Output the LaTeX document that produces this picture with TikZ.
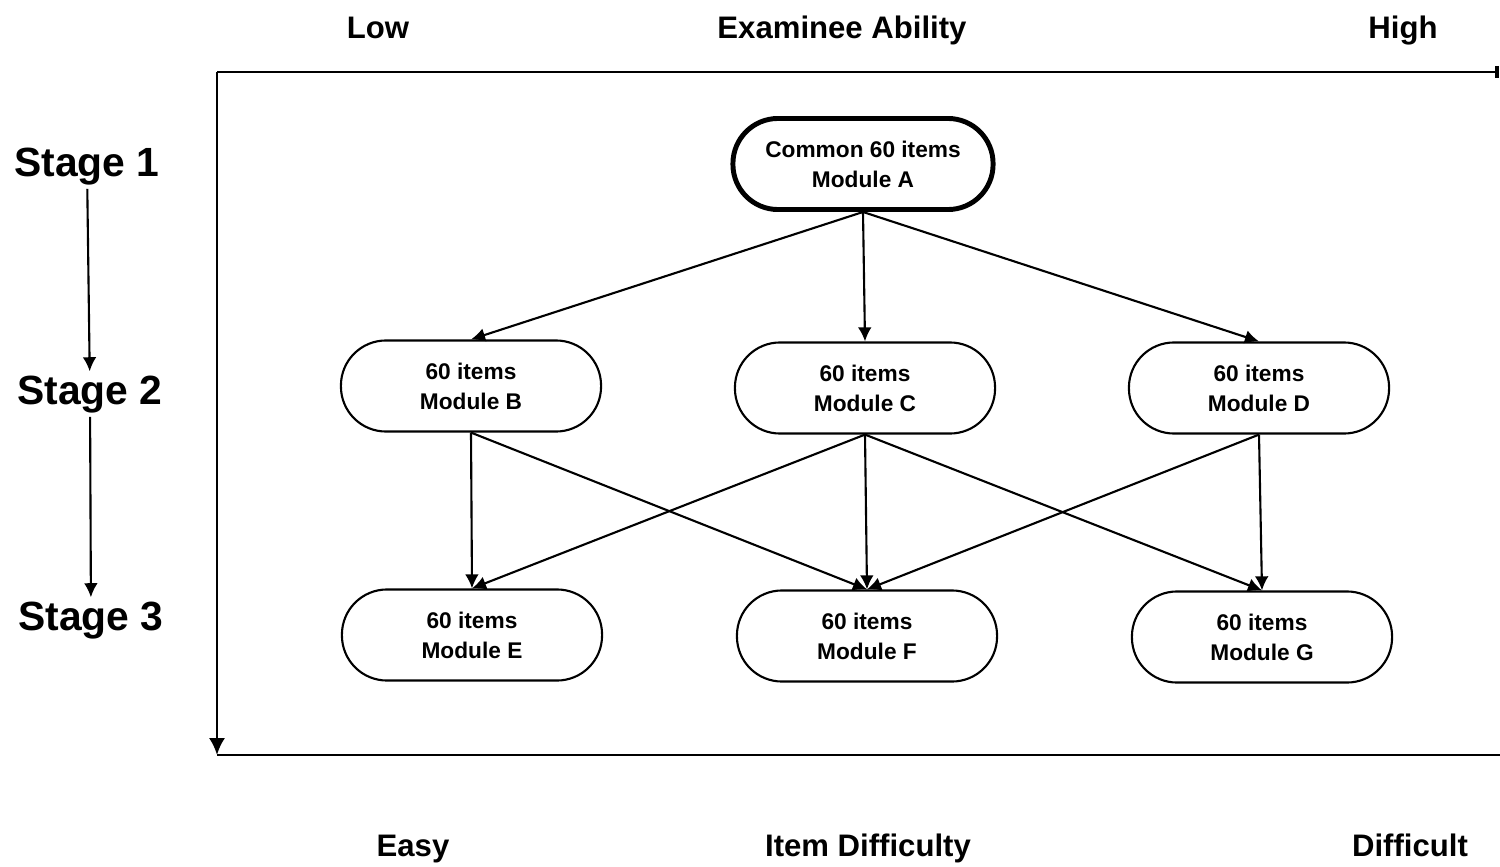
\documentclass[tikz,border=0pt]{standalone}
\usepackage{fontspec}
\setmainfont{Liberation Sans}
\usetikzlibrary{arrows.meta}
\begin{document}
\begin{tikzpicture}[x=0.01cm,y=-0.01cm,
    module/.style={draw,line width=0.6pt,rounded corners=0.45cm,minimum width=2.6cm,
        minimum height=0.91cm,align=center,font=\bfseries\fontsize{6.45}{8.5}\selectfont},
    arr/.style={line width=0.6pt,-{Latex[length=4pt,width=3.9pt]}},
    stage/.style={anchor=base,inner sep=1pt,font=\bfseries\fontsize{11.6}{14}\selectfont},
    axislabel/.style={anchor=base,font=\bfseries\fontsize{8.85}{11}\selectfont}]
    \useasboundingbox (0,0) rectangle (1500,867);
    % axis labels
    \node[axislabel] (low) at (378,39) {Low};
    \node[axislabel] (ability) at (842,39) {Examinee Ability};
    \node[axislabel] (high) at (1403,39) {High};
    \node[axislabel] (easy) at (413,856) {Easy};
    \node[axislabel] (difficulty) at (868,856) {Item Difficulty};
    \node[axislabel] (difficult) at (1410,856) {Difficult};
    % frame
    \coordinate (tl) at (217,72);
    \coordinate (tr) at (1498,72);
    \coordinate (bl) at (217,755);
    \coordinate (br) at (1500,755);
    \draw[line width=0.7pt] (tr) -- (tl);
    \draw[line width=0.8pt,-{Latex[length=4.8pt,width=4.6pt]}] (tl) -- (bl);
    \draw[line width=0.6pt] (bl) -- (br);
    \draw[line width=1.2pt] (1497,66) -- (1497,78);
    % stages
    \node[stage] (s1) at (87,176) {Stage 1};
    \node[stage] (s2) at (90,404) {Stage 2};
    \node[stage] (s3) at (91,630) {Stage 3};
    \draw[arr] (s1) -- (s2);
    \draw[arr] (s2) -- (s3);
    % modules
    \node[module,line width=1.4pt] (A) at (863,164) {Common 60 items\\Module A};
    \node[module] (B) at (471,386) {60 items\\Module B};
    \node[module] (C) at (865,388) {60 items\\Module C};
    \node[module] (D) at (1259,388) {60 items\\Module D};
    \node[module] (E) at (472,635) {60 items\\Module E};
    \node[module] (F) at (867,636) {60 items\\Module F};
    \node[module] (G) at (1262,637) {60 items\\Module G};
    % routes
    \foreach \t in {B,C,D}
        \draw[arr] (A.south) -- (\t.north);
    \foreach \s/\t in {B/E,B/F,C/E,C/F,C/G,D/F,D/G}
        \draw[arr] (\s.south) -- (\t.north);
\end{tikzpicture}
\end{document}
